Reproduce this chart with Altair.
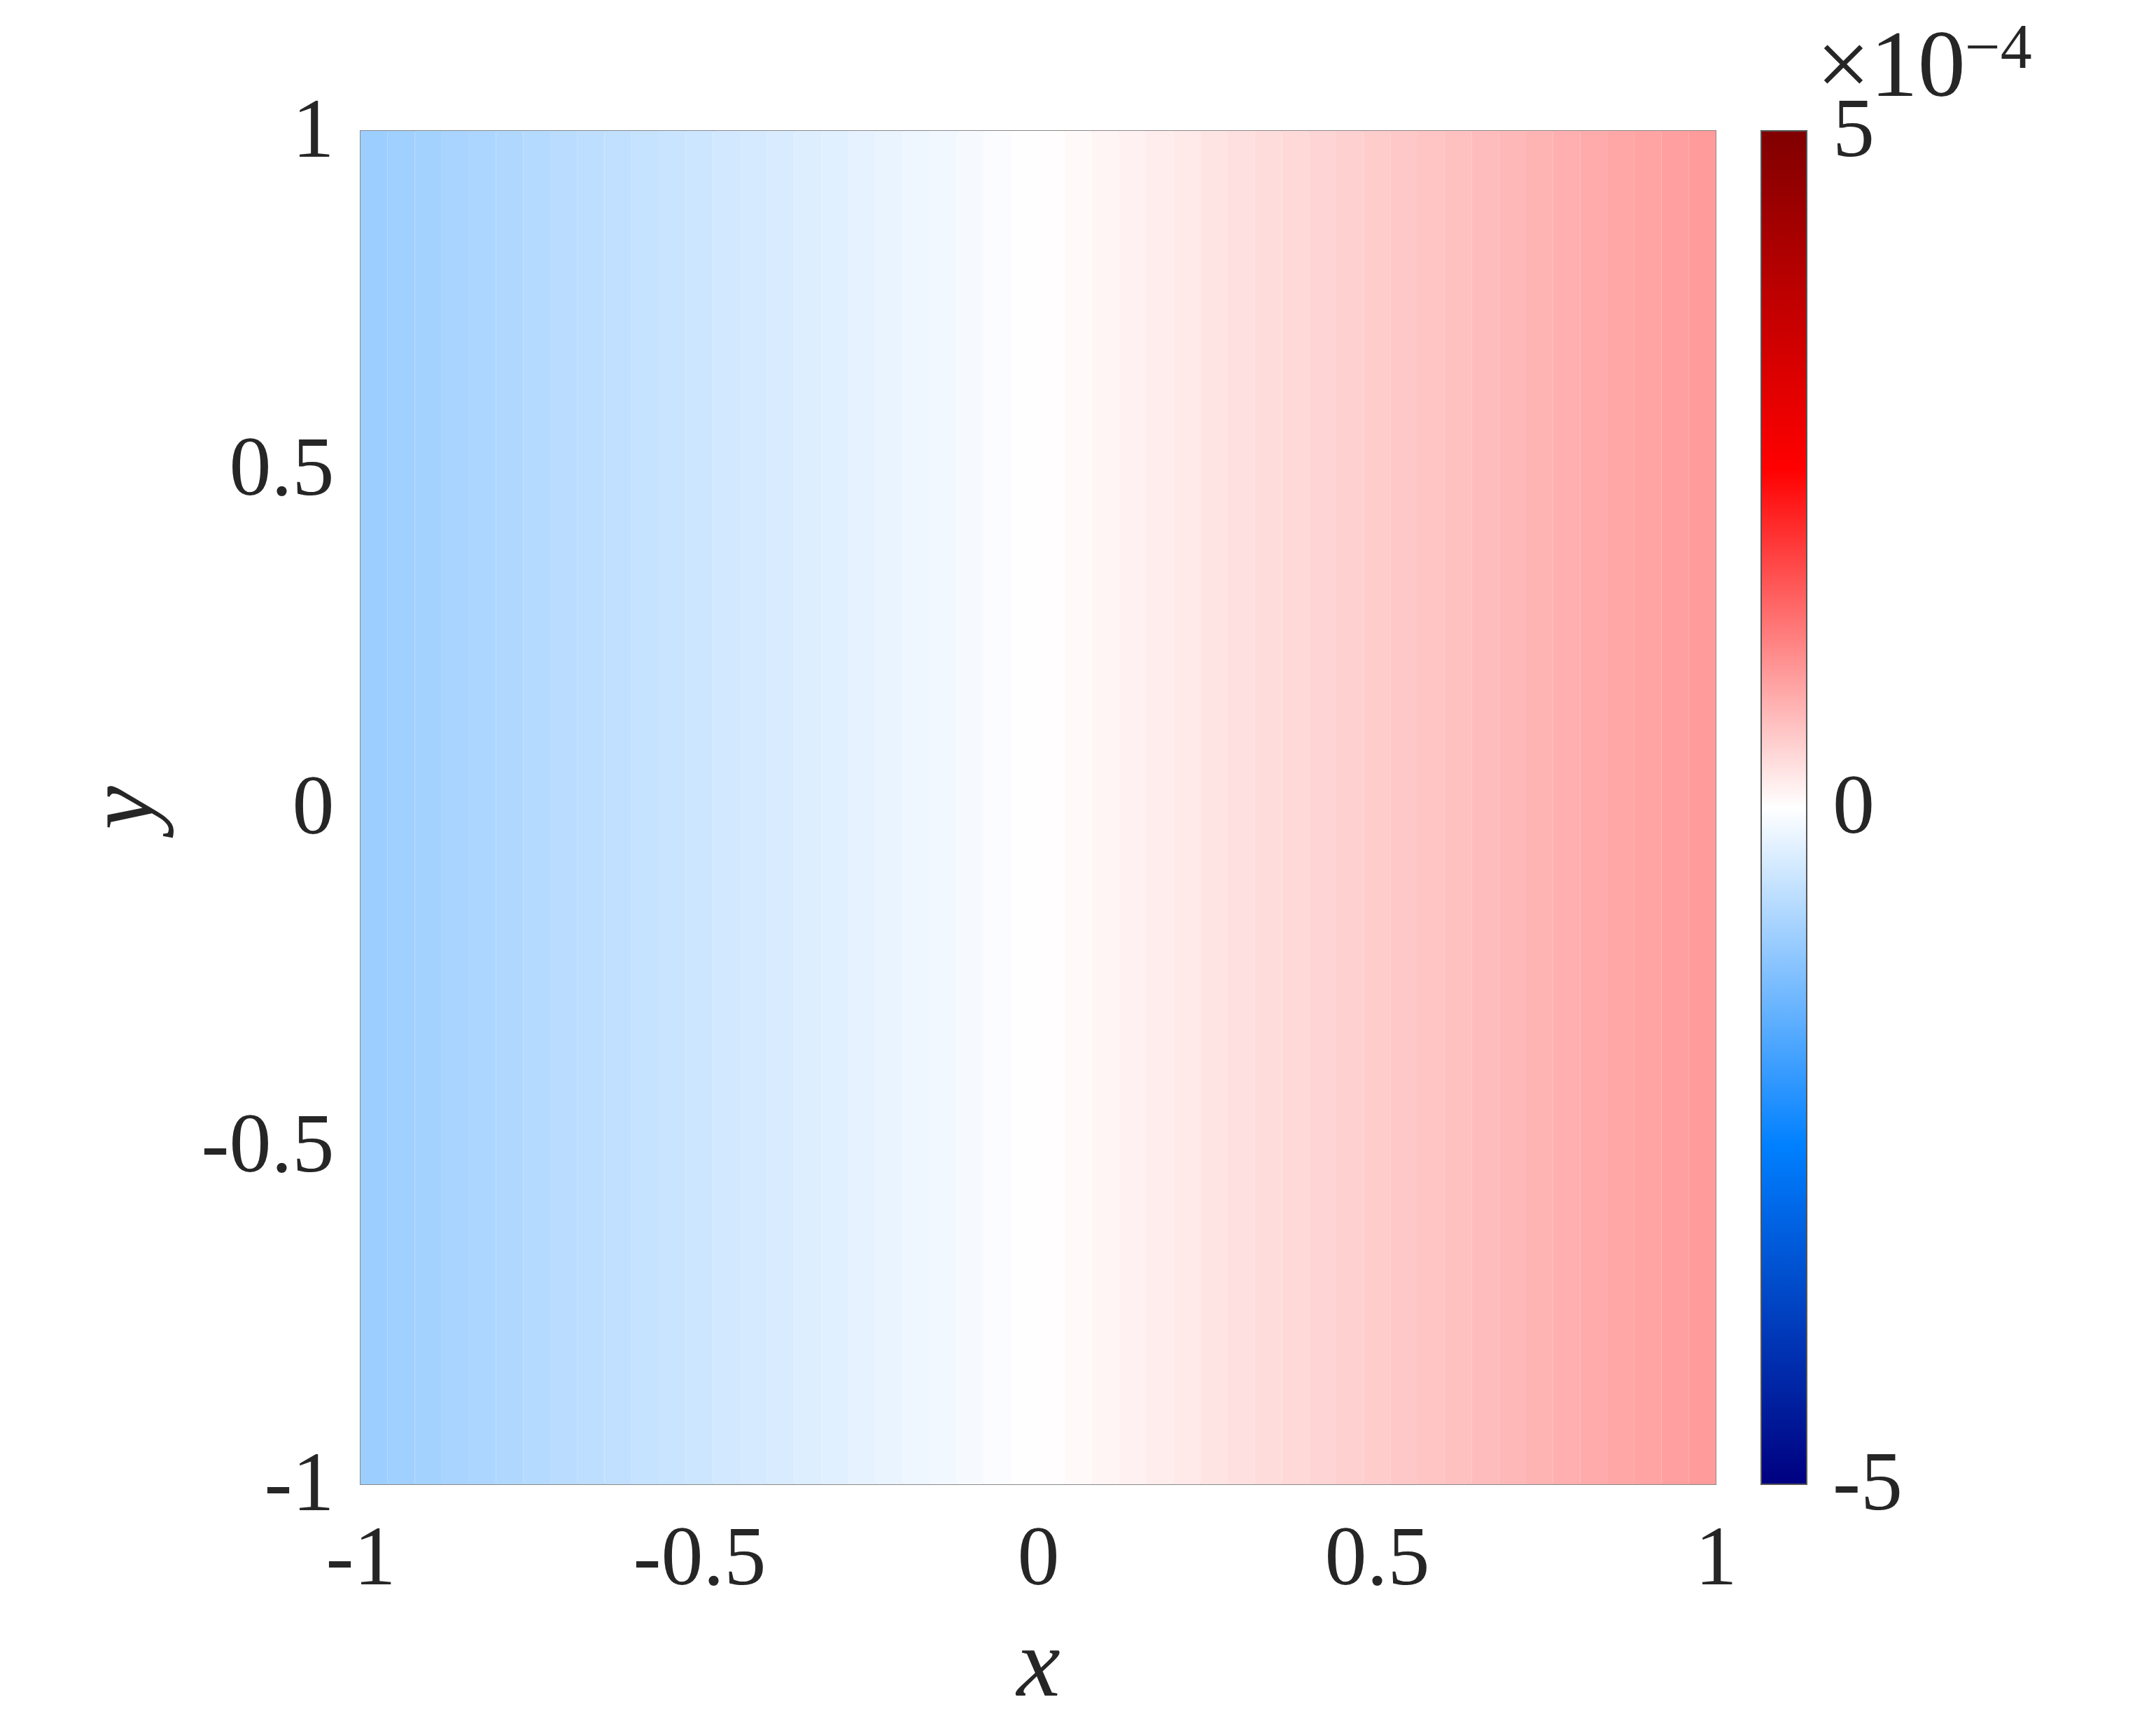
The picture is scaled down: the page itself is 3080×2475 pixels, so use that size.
import altair as alt
import pandas as pd

# column centres in x (the field only varies with x)
x_centres = [-0.98, -0.94, -0.90, -0.86, -0.82, -0.78, -0.74, -0.70, -0.66, -0.62,
             -0.58, -0.54, -0.50, -0.46, -0.42, -0.38, -0.34, -0.30, -0.26, -0.22,
             -0.18, -0.14, -0.10, -0.06, -0.02, 0.02, 0.06, 0.10, 0.14, 0.18,
             0.22, 0.26, 0.30, 0.34, 0.38, 0.42, 0.46, 0.50, 0.54, 0.58,
             0.62, 0.66, 0.70, 0.74, 0.78, 0.82, 0.86, 0.90, 0.94, 0.98]
# field value in units of 1e-4
field = [-0.97, -0.93, -0.89, -0.85, -0.81, -0.77, -0.73, -0.69, -0.65, -0.61,
         -0.57, -0.53, -0.49, -0.45, -0.41, -0.37, -0.33, -0.29, -0.25, -0.21,
         -0.17, -0.13, -0.09, -0.05, -0.01, 0.02, 0.06, 0.10, 0.14, 0.18,
         0.22, 0.26, 0.30, 0.34, 0.38, 0.42, 0.46, 0.50, 0.54, 0.58,
         0.62, 0.66, 0.70, 0.74, 0.78, 0.82, 0.86, 0.90, 0.94, 0.98]
half_width = 0.02
y_range = [-1, 1]

x_ticks = [-1, -0.5, 0, 0.5, 1]
y_ticks = [-1, -0.5, 0, 0.5, 1]
cbar_ticks = [-4.999, 0, 4.999]
cmap_domain = [-5, -2.5, 0, 2.5, 5]
cmap_range = ["#000080", "#0080ff", "#ffffff", "#ff0000", "#800000"]
exponent_base = ["×10"]
exponent_power = ["−4"]

df = pd.DataFrame({
    "x0": [c - half_width for c in x_centres],
    "x1": [c + half_width for c in x_centres],
    "y0": [y_range[0]] * len(x_centres),
    "y1": [y_range[1]] * len(x_centres),
    "v": field,
})

FONT = "Liberation Serif"
TXT = "#262626"
label_expr = "datum.value < 0 ? '-' + format(-datum.value, '') : format(datum.value, '')"
cbar_label_expr = "round(datum.value) < 0 ? '-' + format(-round(datum.value), '') : format(round(datum.value), '')"

field_layer = alt.Chart(df).mark_rect(stroke=None).encode(
    x=alt.X("x0:Q",
            scale=alt.Scale(domain=[-1, 1], nice=False, zero=False),
            axis=alt.Axis(values=x_ticks, title="x", ticks=False, tickSize=0, domain=False,
                          grid=False, labelExpr=label_expr, labelFont=FONT, labelFontSize=120,
                          labelColor=TXT, labelPadding=47, labelFlush=False, labelLimit=600,
                          titleFont=FONT, titleFontSize=140, titleFontStyle="italic",
                          titleFontWeight="normal", titleColor=TXT,
                          titleY=301, titleBaseline="alphabetic")),
    x2="x1:Q",
    y=alt.Y("y0:Q",
            scale=alt.Scale(domain=[-1, 1], nice=False, zero=False),
            axis=alt.Axis(values=y_ticks, title="y", ticks=False, tickSize=0, domain=False,
                          grid=False, labelExpr=label_expr, labelFont=FONT, labelFontSize=120,
                          labelColor=TXT, labelPadding=38, labelFlush=False, labelLimit=600,
                          titleFont=FONT, titleFontSize=140, titleFontStyle="italic",
                          titleFontWeight="normal", titleColor=TXT,
                          titleX=-298, titleBaseline="alphabetic", titleAngle=-90)),
    y2="y1:Q",
    color=alt.Color("v:Q",
                    scale=alt.Scale(domain=cmap_domain, range=cmap_range, interpolate="rgb"),
                    legend=alt.Legend(orient="none", legendX=2001, legendY=0,
                                      direction="vertical", gradientLength=1934,
                                      gradientThickness=65, values=cbar_ticks,
                                      labelExpr=cbar_label_expr, labelFont=FONT,
                                      labelFontSize=120, labelColor=TXT, labelOffset=37,
                                      labelOverlap=False, labelLimit=600,
                                      gradientStrokeColor="#555555", gradientStrokeWidth=2,
                                      title=None)),
)

# colourbar tick at 0 (drawn inward from the bar's right edge)
cbar_tick = alt.Chart(pd.DataFrame({"k": [0]})).mark_rule(color=TXT, strokeWidth=2).encode(
    x=alt.value(2046), x2=alt.value(2066), y=alt.value(967)
)

exp_base = alt.Chart(pd.DataFrame({"t": exponent_base})).mark_text(
    font=FONT, fontSize=136, color=TXT, align="left", baseline="alphabetic"
).encode(text="t:N", x=alt.value(2080), y=alt.value(-50))

exp_pow = alt.Chart(pd.DataFrame({"t": exponent_power})).mark_text(
    font=FONT, fontSize=90, color=TXT, align="left", baseline="alphabetic"
).encode(text="t:N", x=alt.value(2292), y=alt.value(-90))

chart = alt.layer(field_layer, cbar_tick, exp_base, exp_pow).properties(
    width=1936,
    height=1934,
    autosize=alt.AutoSizeParams(type="none"),
    padding={"left": 507, "top": 179, "right": 620, "bottom": 340},
).configure_view(stroke="#8a8a8a", strokeWidth=2)

chart.save("out.html", embed_options={"renderer": "svg", "actions": False})
